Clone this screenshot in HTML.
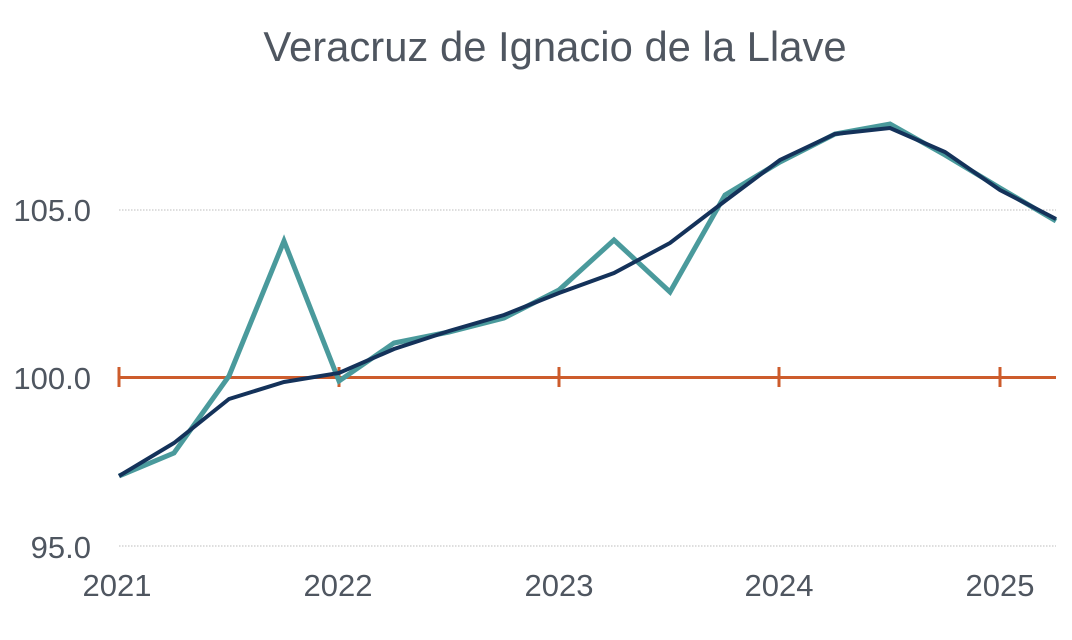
<!DOCTYPE html>
<html><head><meta charset="utf-8"><style>
html,body{margin:0;padding:0;background:#fff;}
svg{display:block;}
text{font-family:"Liberation Sans",Arial,sans-serif;fill:#4f5660;}
</style></head><body>
<svg width="1072" height="640" viewBox="0 0 1072 640" xmlns="http://www.w3.org/2000/svg">
<text x="555" y="61" font-size="41.8" text-anchor="middle">Veracruz de Ignacio de la Llave</text>
<line x1="119" y1="210" x2="1056" y2="210" stroke="#bdbdbd" stroke-width="1" stroke-dasharray="1.5,1.5"/>
<line x1="119" y1="546" x2="1056" y2="546" stroke="#bdbdbd" stroke-width="1" stroke-dasharray="1.5,1.5"/>
<g font-size="31" text-anchor="end">
<text x="91" y="221">105.0</text>
<text x="91" y="389">100.0</text>
<text x="91" y="558">95.0</text>
</g>
<g font-size="31" text-anchor="middle">
<text x="117" y="596">2021</text>
<text x="338" y="596">2022</text>
<text x="559" y="596">2023</text>
<text x="779" y="596">2024</text>
<text x="1000" y="596">2025</text>
</g>
<g stroke="#cd5c2c" stroke-width="3">
<line x1="118" y1="377.5" x2="1056" y2="377.5"/>
<line x1="119" y1="367" x2="119" y2="387"/>
<line x1="339" y1="367" x2="339" y2="387"/>
<line x1="559" y1="367" x2="559" y2="387"/>
<line x1="779" y1="367" x2="779" y2="387"/>
<line x1="1000" y1="367" x2="1000" y2="387"/>
</g>
<polyline fill="none" stroke="#4a9a9c" stroke-width="5" stroke-linejoin="miter" points="119,476 174,453 229,376 284,241 339,381 394,343 449,332 504,318 559,290 614,240 670,292 725,195 780,162 835,134 890,124 945,155 1000,188 1056,221"/>
<polyline fill="none" stroke="#14325a" stroke-width="4" stroke-linejoin="miter" points="119,476 174,443 229,399 284,382 339,373 394,349 449,331 504,315 559,293 614,273 670,243 725,201 780,160 835,134 890,128 945,152 1000,190 1056,219"/>
</svg>
</body></html>
